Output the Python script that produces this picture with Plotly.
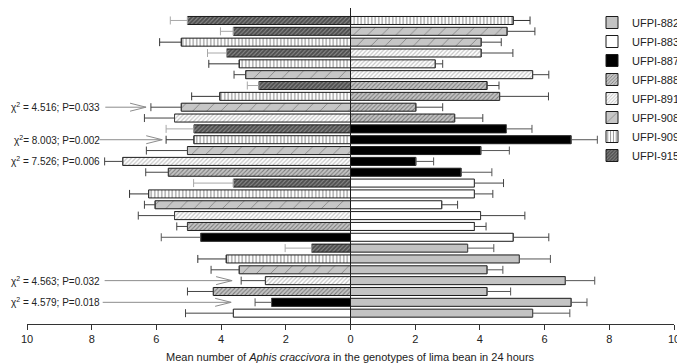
import plotly.graph_objects as go

genotypes = ["UFPI-882", "UFPI-883", "UFPI-887", "UFPI-888",
             "UFPI-891", "UFPI-908", "UFPI-909", "UFPI-915"]

# one row per pairwise comparison, listed top to bottom
right_genotype = ["UFPI-909", "UFPI-908", "UFPI-908", "UFPI-891", "UFPI-891", "UFPI-891",
                  "UFPI-888", "UFPI-888", "UFPI-888", "UFPI-888",
                  "UFPI-887", "UFPI-887", "UFPI-887", "UFPI-887", "UFPI-887",
                  "UFPI-883", "UFPI-883", "UFPI-883", "UFPI-883", "UFPI-883", "UFPI-883",
                  "UFPI-882", "UFPI-882", "UFPI-882", "UFPI-882", "UFPI-882", "UFPI-882", "UFPI-882"]
left_genotype = ["UFPI-915", "UFPI-915", "UFPI-909", "UFPI-915", "UFPI-909", "UFPI-908",
                 "UFPI-915", "UFPI-909", "UFPI-908", "UFPI-891",
                 "UFPI-915", "UFPI-909", "UFPI-908", "UFPI-891", "UFPI-888",
                 "UFPI-915", "UFPI-909", "UFPI-908", "UFPI-891", "UFPI-888", "UFPI-887",
                 "UFPI-915", "UFPI-909", "UFPI-908", "UFPI-891", "UFPI-888", "UFPI-887", "UFPI-883"]
right_mean = [5.03, 4.84, 4.04, 4.04, 2.62, 5.63, 4.22, 4.61, 2.02, 3.22,
              4.82, 6.82, 4.03, 2.02, 3.42, 3.83, 3.83, 2.82, 4.02, 3.83,
              5.03, 3.62, 5.22, 4.22, 6.64, 4.22, 6.82, 5.63]
right_se = [0.52, 0.86, 0.62, 0.98, 0.23, 0.50, 0.37, 1.51, 0.83, 0.87,
            0.79, 0.81, 0.88, 0.55, 0.95, 0.90, 0.57, 0.49, 1.37, 0.36,
            1.10, 0.81, 0.96, 0.49, 0.91, 0.73, 0.49, 1.15]
left_mean = [5.04, 3.62, 5.23, 3.83, 3.44, 3.24, 2.83, 4.04, 5.23, 5.44,
             4.84, 4.84, 5.04, 7.04, 5.63, 3.62, 6.24, 6.04, 5.44, 5.04,
             4.63, 1.20, 3.84, 3.44, 2.63, 4.24, 2.44, 3.62]
left_se = [0.53, 0.40, 0.67, 0.59, 0.94, 0.36, 0.36, 0.87, 0.94, 0.93,
           0.86, 0.86, 1.27, 0.56, 0.70, 1.23, 0.59, 0.33, 1.12, 0.33,
           1.22, 0.82, 0.88, 0.87, 0.75, 0.80, 0.51, 1.48]

tick_values = [-10, -8, -6, -4, -2, 0, 2, 4, 6, 8, 10]
tick_labels = ["10", "8", "6", "4", "2", "0", "2", "4", "6", "8", "10"]

# chi-square annotations: row (1 = top), label, arrow tail x, arrow head x
chi_rows = [9, 12, 14, 25, 27]
chi_labels = ["χ<sup>2</sup> = 4.516; P=0.033", "χ<sup>2</sup>= 8.003; P=0.002",
              "χ<sup>2</sup> = 7.526; P=0.006", "χ<sup>2</sup> = 4.563; P=0.032",
              "χ<sup>2</sup> = 4.579; P=0.018"]
arrow_tail = [-7.58, -7.76, None, -7.60, -7.66]
arrow_head = [-6.32, -5.82, None, -3.66, -3.69]

x_title = "Mean number of <i>Aphis craccivora</i> in the genotypes of lima bean in 24 hours"

styles = {
    "UFPI-882": dict(bg="#c3c3c3", fg="#c3c3c3", shape="", size=8, sol=0.3, err="#555555"),
    "UFPI-883": dict(bg="#ffffff", fg="#ffffff", shape="", size=8, sol=0.3, err="#444444"),
    "UFPI-887": dict(bg="#000000", fg="#000000", shape="", size=8, sol=0.3, err="#555555"),
    "UFPI-888": dict(bg="#c4c4c4", fg="#333333", shape="/", size=3, sol=0.35, err="#444444"),
    "UFPI-891": dict(bg="#ffffff", fg="#8c8c8c", shape="/", size=3, sol=0.4, err="#444444"),
    "UFPI-908": dict(bg="#c6c6c6", fg="#333333", shape="/", size=10, sol=0.08, err="#444444"),
    "UFPI-909": dict(bg="#ffffff", fg="#111111", shape="|", size=3.5, sol=0.3, err="#333333"),
    "UFPI-915": dict(bg="#8a8a8a", fg="#141414", shape="/", size=3, sol=0.65, err="#a8a8a8"),
}

n_rows = len(right_genotype)
row_y = [n_rows - i for i in range(n_rows)]

fig = go.Figure()
for g in genotypes:
    xs, ys, plus, minus = [], [], [], []
    for i in range(n_rows):
        if right_genotype[i] == g:
            xs.append(right_mean[i]); ys.append(row_y[i])
            plus.append(right_se[i]); minus.append(0)
        if left_genotype[i] == g:
            xs.append(-left_mean[i]); ys.append(row_y[i])
            plus.append(0); minus.append(left_se[i])
    s = styles[g]
    fig.add_trace(go.Bar(
        x=xs, y=ys, orientation="h", name=g, width=0.74,
        marker=dict(color=s["bg"], line=dict(color="#1a1a1a", width=1),
                    pattern=dict(shape=s["shape"], fgcolor=s["fg"], bgcolor=s["bg"],
                                 size=s["size"], solidity=s["sol"], fillmode="overlay")),
        error_x=dict(type="data", symmetric=False, array=plus, arrayminus=minus,
                     color=s["err"], thickness=1, width=4),
    ))

# page body adds an 8px offset; figure is sized to fit the 685x364 window
W, H = 677, 356
ML, MR, MT, MB = 19, 11, 0, 40
plot_w = W - ML - MR
plot_h = H - MT - MB

annotations = []
shapes = []
arrow_line = dict(color="#8c8c8c", width=1)
for k, r in enumerate(chi_rows):
    yv = n_rows + 1 - r
    annotations.append(dict(x=75 / plot_w, xref="paper", y=yv, yref="y",
                            xanchor="right", yanchor="middle", text=chi_labels[k],
                            showarrow=False, font=dict(size=10, color="#222")))
    if arrow_tail[k] is not None:
        shapes.append(dict(type="line", xref="x", yref="y", x0=arrow_tail[k], x1=arrow_head[k],
                           y0=yv, y1=yv, line=arrow_line))
        for dy in (-4, 4):
            shapes.append(dict(type="line", xref="x", yref="y",
                               xsizemode="pixel", xanchor=arrow_head[k], x0=-16, x1=0,
                               ysizemode="pixel", yanchor=yv, y0=dy, y1=0, line=arrow_line))

annotations.append(dict(x=0.5, xref="paper", y=-33 / plot_h, yref="paper",
                        xanchor="center", yanchor="middle", text=x_title,
                        showarrow=False, font=dict(size=11, color="#222")))

fig.update_layout(
    width=W, height=H,
    margin=dict(l=ML, r=MR, t=MT, b=MB, autoexpand=False),
    barmode="relative",
    plot_bgcolor="white", paper_bgcolor="white",
    font=dict(family="Liberation Sans, Arial, sans-serif", size=11, color="#222"),
    showlegend=True,
    legend=dict(x=1 + MR / plot_w, y=1.0, xanchor="right", yanchor="top",
                font=dict(size=11), bgcolor="rgba(0,0,0,0)", traceorder="normal"),
    annotations=annotations,
    shapes=shapes,
    xaxis=dict(range=[-10, 10], tickvals=tick_values, ticktext=tick_labels,
               showgrid=False, zeroline=True, zerolinecolor="#222", zerolinewidth=1,
               showline=True, linecolor="#333", linewidth=1,
               ticks="outside", ticklen=5, tickcolor="#333",
               tickfont=dict(size=11), automargin=False),
    yaxis=dict(range=[0, plot_h / 10.84], showticklabels=False, showgrid=False,
               zeroline=False, showline=False, ticks="", automargin=False),
)

fig.write_html("out.html")
